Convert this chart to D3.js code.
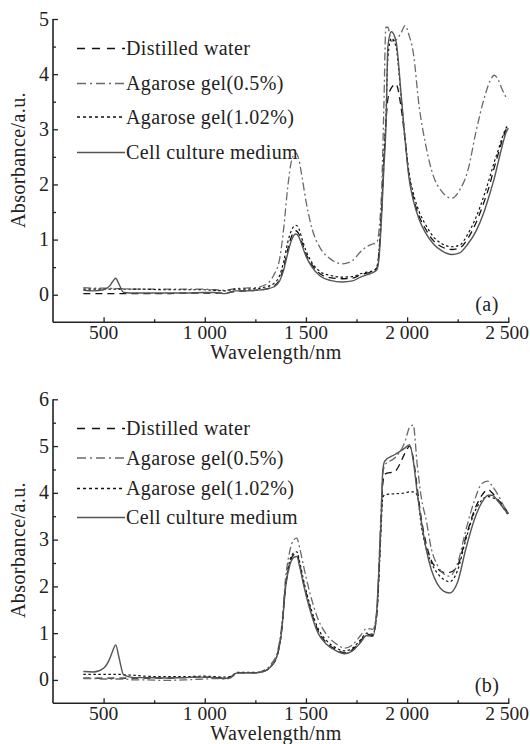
<!DOCTYPE html>
<html>
<head>
<meta charset="utf-8">
<script src="https://cdn.jsdelivr.net/npm/d3@7"></script>
<style>
  html, body { margin: 0; padding: 0; background: #fff; }
  svg { display: block; }
</style>
</head>
<body>
<div id="chart"></div>
<script>
// NIR absorbance spectra — two stacked panels (a) and (b)

const seriesNames = ["Distilled water", "Agarose gel(0.5%)", "Agarose gel(1.02%)", "Cell culture medium"];
const xTicks = [500, 1000, 1500, 2000, 2500];
const xMinor = [750, 1250, 1750, 2250];
const yTicksA = [0, 1, 2, 3, 4, 5];
const yTicksB = [0, 1, 2, 3, 4, 5, 6];

// panel (a)
const wlA = [400, 450, 500, 530, 545, 560, 575, 600, 650, 700, 800, 900, 1000, 1050, 1100, 1150, 1200, 1250, 1300, 1340,
  1370, 1390, 1410, 1430, 1450, 1465, 1480, 1500, 1530, 1570, 1620, 1680, 1730, 1770, 1800, 1830, 1850, 1862, 1875, 1885,
  1895, 1905, 1922, 1945, 1970, 1990, 2010, 2030, 2060, 2090, 2130, 2170, 2220, 2260, 2300, 2340, 2380, 2410, 2430, 2450,
  2470, 2490, 2500];
const waterA = [0.02, 0.02, 0.02, 0.02, 0.02, 0.02, 0.02, 0.02, 0.02, 0.02, 0.02, 0.03, 0.03, 0.03, 0.03, 0.06, 0.07, 0.08, 0.1, 0.15,
  0.28, 0.5, 0.82, 1.07, 1.16, 1.1, 0.95, 0.74, 0.54, 0.38, 0.31, 0.29, 0.3, 0.36, 0.39, 0.42, 0.48, 0.8, 1.6, 2.4,
  3.1, 3.55, 3.75, 3.82, 3.4, 2.8, 2.15, 1.78, 1.42, 1.2, 0.98, 0.87, 0.82, 0.85, 1.02, 1.3, 1.68, 2.02, 2.3, 2.55,
  2.8, 3.0, 3.05];
const agar05A = [0.13, 0.12, 0.12, 0.12, 0.11, 0.11, 0.11, 0.11, 0.1, 0.1, 0.1, 0.1, 0.1, 0.09, 0.08, 0.11, 0.12, 0.13, 0.18, 0.35,
  0.65, 1.2, 1.95, 2.45, 2.57, 2.45, 2.15, 1.7, 1.2, 0.85, 0.65, 0.56, 0.62, 0.78, 0.87, 0.92, 0.95, 1.2, 2.0, 3.4,
  4.85, 4.85, 4.6, 4.62, 4.75, 4.88, 4.7, 4.4, 3.4, 2.75, 2.15, 1.88, 1.75, 1.9, 2.25, 2.95, 3.55, 3.88, 3.98, 3.9,
  3.72, 3.58, 3.55];
const agar102A = [0.1, 0.1, 0.1, 0.1, 0.1, 0.1, 0.1, 0.1, 0.1, 0.1, 0.09, 0.09, 0.09, 0.08, 0.07, 0.1, 0.1, 0.11, 0.14, 0.2,
  0.35, 0.6, 0.95, 1.18, 1.26, 1.2, 1.02, 0.8, 0.58, 0.42, 0.35, 0.32, 0.33, 0.38, 0.41, 0.43, 0.5, 0.85, 1.65, 2.5,
  3.2, 4.3, 4.65, 4.5, 3.6, 2.85, 2.2, 1.85, 1.5, 1.28, 1.05, 0.93, 0.87, 0.9, 1.1, 1.4, 1.8, 2.15, 2.4, 2.62,
  2.85, 3.03, 3.07];
const cellA = [0.08, 0.07, 0.09, 0.16, 0.24, 0.3, 0.2, 0.04, 0.03, 0.03, 0.03, 0.03, 0.04, 0.04, 0.02, 0.07, 0.07, 0.08, 0.1, 0.14,
  0.25, 0.45, 0.75, 1.0, 1.1, 1.05, 0.9, 0.7, 0.5, 0.34, 0.26, 0.23, 0.25, 0.32, 0.36, 0.4, 0.45, 0.7, 1.5, 2.3,
  3.0, 4.5, 4.77, 4.6, 3.65, 2.8, 2.1, 1.72, 1.36, 1.13, 0.92, 0.8, 0.73, 0.76, 0.92, 1.15, 1.5, 1.85, 2.1, 2.4,
  2.7, 2.95, 3.02];

// panel (b)
const wlB = [400, 450, 500, 530, 545, 560, 575, 600, 650, 700, 800, 900, 1000, 1050, 1100, 1130, 1160, 1200, 1250, 1290,
  1330, 1360, 1380, 1400, 1420, 1440, 1455, 1470, 1490, 1520, 1560, 1600, 1650, 1690, 1730, 1770, 1800, 1830, 1850, 1862,
  1872, 1880, 1890, 1940, 1990, 2012, 2030, 2050, 2070, 2095, 2120, 2150, 2180, 2210, 2250, 2290, 2330, 2370, 2400, 2420,
  2450, 2480, 2500];
const waterB = [0.04, 0.04, 0.04, 0.04, 0.04, 0.04, 0.04, 0.04, 0.04, 0.04, 0.04, 0.05, 0.06, 0.05, 0.04, 0.07, 0.15, 0.15, 0.15, 0.18,
  0.3, 0.55, 1.05, 2.02, 2.5, 2.68, 2.7, 2.45, 2.05, 1.55, 1.05, 0.8, 0.65, 0.58, 0.65, 0.83, 0.98, 0.95, 1.4, 2.4,
  3.5, 4.2, 4.4, 4.46, 4.85, 5.0, 4.75, 4.1, 3.45, 2.9, 2.55, 2.38, 2.3, 2.3, 2.45, 3.05, 3.6, 3.95, 4.07, 4.0,
  3.85, 3.7, 3.55];
const agar05B = [0.03, 0.03, 0.02, 0.02, 0.02, 0.02, 0.02, 0.02, 0.0, 0.0, -0.01, 0.0, 0.02, 0.03, 0.02, 0.05, 0.14, 0.15, 0.15, 0.2,
  0.35, 0.62, 1.15, 2.2, 2.75, 3.0, 3.03, 2.8, 2.4, 1.85, 1.3, 0.98, 0.77, 0.68, 0.75, 0.95, 1.1, 1.08, 1.45, 2.6,
  3.7, 4.4, 4.6, 4.75, 5.1, 5.4, 5.45, 4.6, 3.9, 3.4, 2.8, 2.45, 2.27, 2.22, 2.5, 3.2, 3.8, 4.2, 4.25, 4.15,
  3.95, 3.7, 3.55];
const agar102B = [0.12, 0.12, 0.12, 0.12, 0.12, 0.12, 0.12, 0.11, 0.1, 0.08, 0.07, 0.07, 0.08, 0.07, 0.06, 0.08, 0.16, 0.16, 0.16, 0.19,
  0.31, 0.56, 1.07, 2.05, 2.55, 2.72, 2.74, 2.5, 2.1, 1.6, 1.1, 0.85, 0.68, 0.62, 0.68, 0.86, 1.0, 0.98, 1.4, 2.3,
  3.3, 3.9, 3.96, 3.98, 4.0, 4.02, 4.02, 3.95, 3.3, 2.8, 2.5, 2.28, 2.15, 2.1, 2.35, 3.0, 3.55, 3.85, 3.92, 3.9,
  3.82, 3.65, 3.52];
const cellB = [0.18, 0.17, 0.25, 0.45, 0.62, 0.75, 0.5, 0.1, 0.05, 0.05, 0.04, 0.05, 0.06, 0.05, 0.03, 0.06, 0.15, 0.15, 0.15, 0.18,
  0.3, 0.55, 1.05, 2.0, 2.45, 2.62, 2.64, 2.4, 2.0, 1.5, 1.0, 0.77, 0.62, 0.56, 0.62, 0.8, 0.95, 0.93, 1.5, 2.5,
  3.5, 4.5, 4.68, 4.82, 4.96, 5.03, 4.7, 4.0, 3.4, 2.78, 2.35, 2.05, 1.9, 1.86, 2.1, 2.8, 3.4, 3.8, 3.95, 3.95,
  3.82, 3.65, 3.55];

const styles = [
  { color: "#111", width: 1.3, dash: "7,5",       legendDash: "8,7" },
  { color: "#6a6a6a", width: 1.3, dash: "8,3,2,3", legendDash: "9,4,2,4" },
  { color: "#111", width: 1.2, dash: "2.5,2.5",   legendDash: "3,3" },
  { color: "#555", width: 1.4, dash: null,        legendDash: null }
];

const FONT = '"Liberation Serif", "Times New Roman", Times, "DejaVu Serif", serif';
const W = 530, H = 744;
const svg = d3.select("#chart").append("svg").attr("width", W).attr("height", H);

const fmt = d3.formatLocale({ decimal: ".", thousands: " ", grouping: [3], currency: ["", ""] }).format(",d");

function label(g, size = 20, spacing = 0.4) {
  return g.append("text").style("font-family", FONT).attr("font-size", size)
    .attr("letter-spacing", spacing).attr("fill", "#222");
}

function drawPanel(p) {
  const x = d3.scaleLinear().domain([250, 2500]).range([53, 508.3]);
  const y = d3.scaleLinear().domain([-0.5, p.yMax]).range([p.bottom, p.top]);
  const g = svg.append("g");

  // y axis: inward ticks, major on integers, minor on halves
  g.append("g").attr("transform", `translate(${x(250)},0)`)
    .call(d3.axisRight(y).tickValues(p.yTicks).tickSize(5).tickFormat(""))
    .select(".domain").remove();
  g.append("g").attr("transform", `translate(${x(250)},0)`)
    .call(d3.axisRight(y).tickValues(d3.range(0.5, p.yMax, 1)).tickSize(3).tickFormat(""))
    .select(".domain").remove();
  g.append("line").attr("x1", x(250)).attr("x2", x(250)).attr("y1", y(-0.5)).attr("y2", y(p.yMax))
    .attr("stroke", "#222").attr("stroke-width", 1.6);
  p.yTicks.forEach(d => {
    label(g, 20, 0).attr("x", x(250) - 4).attr("y", y(d) + 6.5).attr("text-anchor", "end").text(d);
  });

  // x axis
  g.append("g").attr("transform", `translate(0,${p.bottom})`)
    .call(d3.axisTop(x).tickValues(xTicks).tickSize(5).tickFormat(""))
    .select(".domain").remove();
  g.append("g").attr("transform", `translate(0,${p.bottom})`)
    .call(d3.axisTop(x).tickValues(xMinor).tickSize(3).tickFormat(""))
    .select(".domain").remove();
  g.append("line").attr("x1", x(250)).attr("x2", x(2500) + 1).attr("y1", p.bottom).attr("y2", p.bottom)
    .attr("stroke", "#222").attr("stroke-width", 1.6);
  xTicks.forEach(d => {
    const last = d === 2500;
    label(g, 19.5, 0).attr("x", last ? W - 1 : x(d)).attr("y", p.bottom + 17)
      .attr("text-anchor", last ? "end" : "middle").text(fmt(d));
  });
  g.selectAll(".tick line").attr("stroke", "#222").attr("stroke-width", 1.3);

  label(g).attr("x", 276).attr("y", p.bottom + 37).attr("text-anchor", "middle").text("Wavelength/nm");
  label(g).attr("transform", `translate(25,${p.titleY}) rotate(-90)`).attr("text-anchor", "middle").text("Absorbance/a.u.");
  label(g).attr("x", 487).attr("y", p.bottom - 11.5).attr("text-anchor", "middle").text(p.tag);

  // curves
  const line = d3.line().x(d => x(d[0])).y(d => y(d[1])).curve(d3.curveMonotoneX);
  p.series.forEach((vals, i) => {
    const s = styles[i];
    g.append("path").datum(p.wl.map((w, k) => [w, vals[k]]))
      .attr("d", line).attr("fill", "none")
      .attr("stroke", s.color).attr("stroke-width", s.width)
      .attr("stroke-dasharray", s.dash);
  });

  // legend
  seriesNames.forEach((name, i) => {
    const s = styles[i];
    const by = p.legendY[i];
    g.append("line").attr("x1", 77).attr("x2", 125).attr("y1", by - 6.5).attr("y2", by - 6.5)
      .attr("stroke", s.color).attr("stroke-width", 1.4).attr("stroke-dasharray", s.legendDash);
    label(g).attr("x", 126).attr("y", by).text(name);
  });
}

drawPanel({
  top: 19, bottom: 322.3, yMax: 5, yTicks: yTicksA, tag: "(a)", titleY: 160,
  wl: wlA, series: [waterA, agar05A, agar102A, cellA], legendY: [55, 90, 123.5, 159]
});
drawPanel({
  top: 399.3, bottom: 703.3, yMax: 6, yTicks: yTicksB, tag: "(b)", titleY: 550,
  wl: wlB, series: [waterB, agar05B, agar102B, cellB], legendY: [435, 464.5, 495, 524]
});
</script>
</body>
</html>
